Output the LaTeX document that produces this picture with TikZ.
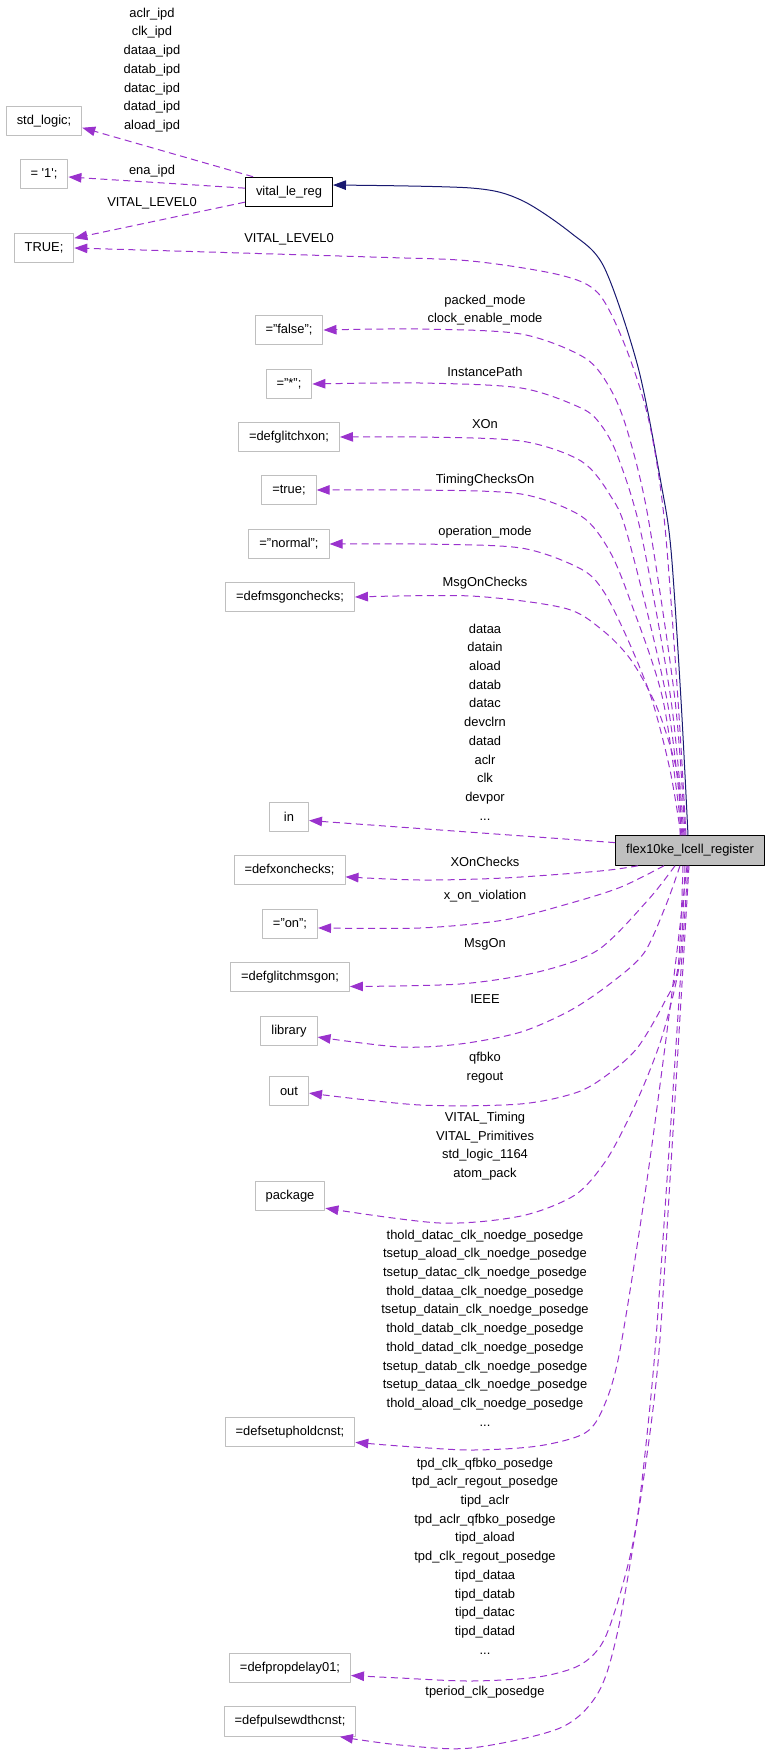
\documentclass[tikz,border=0pt]{standalone}
\usepackage{fontspec}
\setmainfont{Liberation Sans}
\usepackage{tikz}
\usetikzlibrary{arrows.meta}
\definecolor{orchidline}{HTML}{9A32CD}
\definecolor{navyline}{HTML}{191970}
\definecolor{leafgray}{HTML}{BFBFBF}
\tikzstyle{every node}=[font=\fontsize{12.9}{18.7}\selectfont]

\begin{document}
\begin{tikzpicture}[x=1pt,y=-1pt,line join=round,
    leaf/.style={draw=leafgray,line width=1pt,minimum width=39pt,minimum height=29.5pt,inner xsep=10.5pt,inner ysep=0pt},
    cls/.style={leaf,draw=black},
    dep/.style={draw=orchidline,line width=1pt,dash pattern=on 7pt off 4.5pt,-{Triangle[length=13pt,width=9.5pt,fill=orchidline]}},
    inh/.style={draw=navyline,line width=1pt,-{Triangle[length=13pt,width=9.5pt,fill=navyline]}},
    lbl/.style={align=center,inner sep=0pt}]
            \useasboundingbox (0,0) rectangle (771,1763);

            % classes
            \node[cls] (vital) at (289,192) {vital\_le\_reg};
            \node[cls,fill=leafgray] (flex) at (690,850.5) {flex10ke\_lcell\_register};

            % leaves of vital_le_reg
            \node[leaf] (stdlogic) at (44,121) {std\_logic;};
            \node[leaf] (one) at (44,174) {= \textquotesingle 1\textquotesingle;};
            \node[leaf] (true0) at (44,248) {TRUE;};

            % leaves of flex10ke_lcell_register
            \node[leaf] (false0) at (289,330) {="false";};
            \node[leaf] (star) at (289,384) {="*";};
            \node[leaf] (glitchxon) at (289,437) {=defglitchxon;};
            \node[leaf] (truev) at (289,490) {=true;};
            \node[leaf] (normal) at (289,544) {="normal";};
            \node[leaf] (msgonchecks) at (290,597) {=defmsgonchecks;};
            \node[leaf] (inp) at (289,817) {in};
            \node[leaf] (xonchecks) at (289.5,870) {=defxonchecks;};
            \node[leaf] (onv) at (290,924) {="on";};
            \node[leaf] (glitchmsgon) at (290,977) {=defglitchmsgon;};
            \node[leaf] (library) at (289,1031) {library};
            \node[leaf] (outp) at (289,1091) {out};
            \node[leaf] (package) at (290,1196) {package};
            \node[leaf] (setuphold) at (290,1432) {=defsetupholdcnst;};
            \node[leaf] (propdelay) at (290,1668) {=defpropdelay01;};
            \node[leaf] (pulsewdth) at (290,1721.5) {=defpulsewdthcnst;};

            % vital_le_reg edges
            \draw[dep] (vital.157) -- (stdlogic.-10);
            \draw[dep] (vital.175) -- (one.-7);
            \draw[dep] (vital.-167) -- (true0.18);
            \node[lbl] (lipd) at (152,70) {aclr\_ipd\\clk\_ipd\\dataa\_ipd\\datab\_ipd\\datac\_ipd\\datad\_ipd\\aload\_ipd};
            \node[lbl] (lena) at (152,171) {ena\_ipd};
            \node[lbl] (llevel) at (152,203) {VITAL\_LEVEL0};

            % inheritance
            \draw[inh] plot[smooth] coordinates {([xshift=-2pt]flex.north) (681,700) (671,550) (661,483) (638,367) (604,267) (571,233) (521,200) (471,188) (vital.9)};

            % upper edges
            \draw[dep] plot[smooth] coordinates {([xshift=-4pt]flex.north) (678,700) (664,517) (648,417) (624,343) (598,293) (560,275) (471,261) (371,257) (true0.east)};
            \draw[dep] plot[smooth] coordinates {([xshift=-5pt]flex.north) (675,700) (648,517) (628,433) (611,390) (585,358) (521,334) (420,329) (false0.east)};
            \draw[dep] plot[smooth] coordinates {([xshift=-6pt]flex.north) (671,700) (641,533) (618,457) (601,425) (581,408) (521,388) (420,383) (star.east)};
            \draw[dep] plot[smooth] coordinates {([xshift=-7pt]flex.north) (667,700) (628,537) (610,495) (581,461) (521,441) (420,437) (glitchxon.east)};
            \draw[dep] plot[smooth] coordinates {([xshift=-8pt]flex.north) (663,700) (630,600) (609,550) (581,516) (521,494) (420,490) (truev.east)};
            \draw[dep] plot[smooth] coordinates {([xshift=-9pt]flex.north) (670,770) (652,700) (628,640) (604,592) (581,569) (521,548) (420,544) (normal.east)};
            \draw[dep] plot[smooth] coordinates {([xshift=-10pt]flex.north) (678,777) (658,710) (631,660) (601,629) (564,608) (471,596) (msgonchecks.east)};
            \draw[dep] (flex.174) -- (inp.-10);

            % lower edges
            \draw[dep] plot[smooth] coordinates {([xshift=-52pt]flex.south) (600,871) (504,878) (420,880) (xonchecks.-7)};
            \draw[dep] plot[smooth] coordinates {([xshift=-26pt]flex.south) (621,887) (571,903) (504,920) (420,928) (onv.-8)};
            \draw[dep] plot[smooth] coordinates {([xshift=-15pt]flex.south) (648,900) (598,950) (538,972) (460,984) (glitchmsgon.-9)};
            \draw[dep] plot[smooth] coordinates {([xshift=-10pt]flex.south) (666,905) (644,953) (611,983) (571,1010) (521,1032) (460,1044) (400,1047) (library.-12)};
            \draw[dep] plot[smooth] coordinates {([xshift=-7pt]flex.south) (678,967) (664,1003) (638,1047) (611,1072) (578,1092) (520,1104) (420,1105) (outp.-6)};
            \draw[dep] plot[smooth] coordinates {([xshift=-5pt]flex.south) (680,960) (664,1030) (648,1075) (628,1120) (605,1162) (575,1195) (521,1216) (440,1223) (package.-19)};
            \draw[dep] plot[smooth] coordinates {([xshift=-3pt]flex.south) (671,1000) (647,1180) (620,1350) (604,1406) (585,1433) (538,1446) (471,1450) (400,1446) (setuphold.-9)};
            \draw[dep] plot[smooth] coordinates {([xshift=-2pt]flex.south) (679,1000) (667,1180) (654,1363) (638,1513) (624,1580) (604,1640) (580,1665) (538,1677) (471,1681) (400,1678) (propdelay.-7)};
            \draw[dep] plot[smooth] coordinates {([xshift=-1pt]flex.south) (681,1000) (670,1180) (658,1363) (641,1496) (618,1630) (598,1693) (560,1728) (471,1748) (400,1745) (pulsewdth.-17)};

            % edge labels
            \node[lbl] (llevelb) at (289,239) {VITAL\_LEVEL0};
            \node[lbl] (lmode) at (485,310) {packed\_mode\\clock\_enable\_mode};
            \node[lbl] (lpath) at (485,372) {InstancePath};
            \node[lbl] (lxon) at (485,424) {XOn};
            \node[lbl] (ltiming) at (485,480) {TimingChecksOn};
            \node[lbl] (lopmode) at (485,532) {operation\_mode};
            \node[lbl] (lmsgchk) at (485,583) {MsgOnChecks};
            \node[lbl] (lports) at (485,722) {dataa\\datain\\aload\\datab\\datac\\devclrn\\datad\\aclr\\clk\\devpor\\...};
            \node[lbl] (lxonchk) at (485,862) {XOnChecks};
            \node[lbl] (lviol) at (485,896) {x\_on\_violation};
            \node[lbl] (lmsgon) at (485,944) {MsgOn};
            \node[lbl] (lieee) at (485,999) {IEEE};
            \node[lbl] (louts) at (485,1068) {qfbko\\regout};
            \node[lbl] (lpacks) at (485,1146) {VITAL\_Timing\\VITAL\_Primitives\\std\_logic\_1164\\atom\_pack};
            \node[lbl] (lchecks) at (485,1328) {thold\_datac\_clk\_noedge\_posedge\\tsetup\_aload\_clk\_noedge\_posedge\\tsetup\_datac\_clk\_noedge\_posedge\\thold\_dataa\_clk\_noedge\_posedge\\tsetup\_datain\_clk\_noedge\_posedge\\thold\_datab\_clk\_noedge\_posedge\\thold\_datad\_clk\_noedge\_posedge\\tsetup\_datab\_clk\_noedge\_posedge\\tsetup\_dataa\_clk\_noedge\_posedge\\thold\_aload\_clk\_noedge\_posedge\\...};
            \node[lbl] (ldelays) at (485,1556) {tpd\_clk\_qfbko\_posedge\\tpd\_aclr\_regout\_posedge\\tipd\_aclr\\tpd\_aclr\_qfbko\_posedge\\tipd\_aload\\tpd\_clk\_regout\_posedge\\tipd\_dataa\\tipd\_datab\\tipd\_datac\\tipd\_datad\\...};
            \node[lbl] (lperiod) at (485,1692) {tperiod\_clk\_posedge};
\end{tikzpicture}
\end{document}
